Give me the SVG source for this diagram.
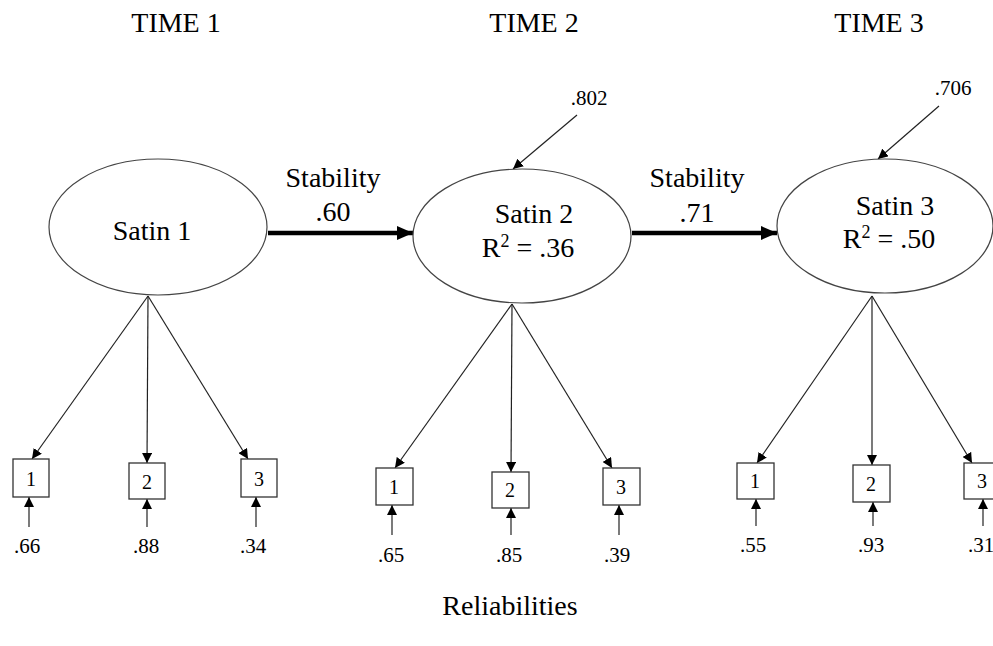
<svg xmlns="http://www.w3.org/2000/svg" width="993" height="646" viewBox="0 0 993 646" font-family="'Liberation Serif', 'Times New Roman', 'DejaVu Serif', serif">
<style>
text, tspan{font-family:'Liberation Serif', 'Times New Roman', 'DejaVu Serif', serif;fill:#000}
.big{font-size:28px}
.lab{font-size:21px}
.dig{font-size:20px}
.ell{fill:#fff;stroke:#444;stroke-width:1.2}
.box{fill:#fff;stroke:#333;stroke-width:1.3}
.thin{stroke:#222;stroke-width:1.2;fill:none}
.thick{stroke:#000;stroke-width:4.5;fill:none}
</style>
<defs>
<marker id="ah" viewBox="0 0 10 10" refX="10" refY="5" markerWidth="10" markerHeight="10" markerUnits="userSpaceOnUse" orient="auto"><path d="M0,0 L10,5 L0,10 z" fill="#000"/></marker>
<marker id="ahb" viewBox="0 0 10 10" refX="10" refY="5" markerWidth="16" markerHeight="14" markerUnits="userSpaceOnUse" orient="auto" preserveAspectRatio="none"><path d="M0,0 L10,5 L0,10 z" fill="#000"/></marker>
</defs>
<g id="titles">
<text class="big" x="176" y="32" text-anchor="middle">TIME 1</text>
<text class="big" x="534" y="32" text-anchor="middle">TIME 2</text>
<text class="big" x="879" y="32" text-anchor="middle">TIME 3</text>
<text class="big" x="510" y="615" text-anchor="middle">Reliabilities</text>
</g>
<g id="connectors">
<line class="thick" x1="268" y1="233" x2="413" y2="233" marker-end="url(#ahb)"/>
<line class="thick" x1="632" y1="233" x2="777" y2="233" marker-end="url(#ahb)"/>
<line class="thin" x1="577" y1="115" x2="513" y2="169" marker-end="url(#ah)"/>
<line class="thin" x1="939" y1="106" x2="878" y2="159" marker-end="url(#ah)"/>
<line class="thin" x1="148" y1="296" x2="32" y2="459" marker-end="url(#ah)"/>
<line class="thin" x1="148" y1="296" x2="147" y2="463" marker-end="url(#ah)"/>
<line class="thin" x1="148" y1="296" x2="248" y2="459" marker-end="url(#ah)"/>
<line class="thin" x1="512" y1="304" x2="395" y2="468" marker-end="url(#ah)"/>
<line class="thin" x1="512" y1="304" x2="511" y2="472" marker-end="url(#ah)"/>
<line class="thin" x1="512" y1="304" x2="612" y2="468" marker-end="url(#ah)"/>
<line class="thin" x1="872" y1="296" x2="757" y2="463" marker-end="url(#ah)"/>
<line class="thin" x1="872" y1="296" x2="872" y2="465" marker-end="url(#ah)"/>
<line class="thin" x1="872" y1="296" x2="972" y2="463" marker-end="url(#ah)"/>
<line class="thin" x1="29" y1="527" x2="29" y2="497" marker-end="url(#ah)"/>
<line class="thin" x1="147" y1="527" x2="147" y2="499" marker-end="url(#ah)"/>
<line class="thin" x1="256" y1="527" x2="256" y2="497" marker-end="url(#ah)"/>
<line class="thin" x1="392" y1="535" x2="392" y2="505" marker-end="url(#ah)"/>
<line class="thin" x1="511" y1="535" x2="511" y2="508" marker-end="url(#ah)"/>
<line class="thin" x1="619" y1="535" x2="619" y2="505" marker-end="url(#ah)"/>
<line class="thin" x1="756" y1="526" x2="756" y2="499" marker-end="url(#ah)"/>
<line class="thin" x1="873" y1="526" x2="873" y2="502" marker-end="url(#ah)"/>
<line class="thin" x1="983" y1="526" x2="983" y2="499" marker-end="url(#ah)"/>
</g>
<g id="path-labels">
<text class="big" x="333" y="187" text-anchor="middle">Stability</text>
<text class="big" x="333" y="221" text-anchor="middle">.60</text>
<text class="big" x="697" y="187" text-anchor="middle">Stability</text>
<text class="big" x="697" y="222" text-anchor="middle">.71</text>
<text class="lab" x="589" y="105" text-anchor="middle">.802</text>
<text class="lab" x="953" y="95" text-anchor="middle">.706</text>
</g>
<g id="satin1">
<ellipse class="ell" cx="158" cy="227" rx="109" ry="68"/>
<text class="big" x="152" y="240" text-anchor="middle">Satin 1</text>
</g>
<g id="satin2">
<ellipse class="ell" cx="522" cy="236" rx="109" ry="67"/>
<text class="big" x="534" y="223" text-anchor="middle">Satin 2</text>
<text class="big" x="528" y="257" text-anchor="middle">R<tspan font-size="18" dy="-10">2</tspan><tspan dy="10"> = .36</tspan></text>
</g>
<g id="satin3">
<ellipse class="ell" cx="885" cy="226" rx="108" ry="67"/>
<text class="big" x="895" y="215" text-anchor="middle">Satin 3</text>
<text class="big" x="889" y="248" text-anchor="middle">R<tspan font-size="18" dy="-10">2</tspan><tspan dy="10"> = .50</tspan></text>
</g>
<g id="t1-items">
<rect class="box" x="13" y="459" width="36" height="38"/><text class="dig" x="31" y="486" text-anchor="middle">1</text>
<rect class="box" x="129" y="463" width="36" height="36"/><text class="dig" x="147" y="489" text-anchor="middle">2</text>
<rect class="box" x="241" y="459" width="36" height="38"/><text class="dig" x="259" y="486" text-anchor="middle">3</text>
<text class="lab" x="27" y="553" text-anchor="middle">.66</text>
<text class="lab" x="146" y="553" text-anchor="middle">.88</text>
<text class="lab" x="253" y="553" text-anchor="middle">.34</text>
</g>
<g id="t2-items">
<rect class="box" x="376" y="468" width="37" height="37"/><text class="dig" x="394" y="494" text-anchor="middle">1</text>
<rect class="box" x="492" y="472" width="37" height="36"/><text class="dig" x="510" y="497" text-anchor="middle">2</text>
<rect class="box" x="603" y="468" width="37" height="37"/><text class="dig" x="621" y="494" text-anchor="middle">3</text>
<text class="lab" x="391" y="562" text-anchor="middle">.65</text>
<text class="lab" x="509" y="562" text-anchor="middle">.85</text>
<text class="lab" x="617" y="562" text-anchor="middle">.39</text>
</g>
<g id="t3-items">
<rect class="box" x="737" y="463" width="37" height="36"/><text class="dig" x="755" y="488" text-anchor="middle">1</text>
<rect class="box" x="853" y="465" width="37" height="37"/><text class="dig" x="871" y="491" text-anchor="middle">2</text>
<rect class="box" x="964" y="463" width="37" height="36"/><text class="dig" x="982" y="488" text-anchor="middle">3</text>
<text class="lab" x="753" y="552" text-anchor="middle">.55</text>
<text class="lab" x="871" y="552" text-anchor="middle">.93</text>
<text class="lab" x="981" y="552" text-anchor="middle">.31</text>
</g>
</svg>
